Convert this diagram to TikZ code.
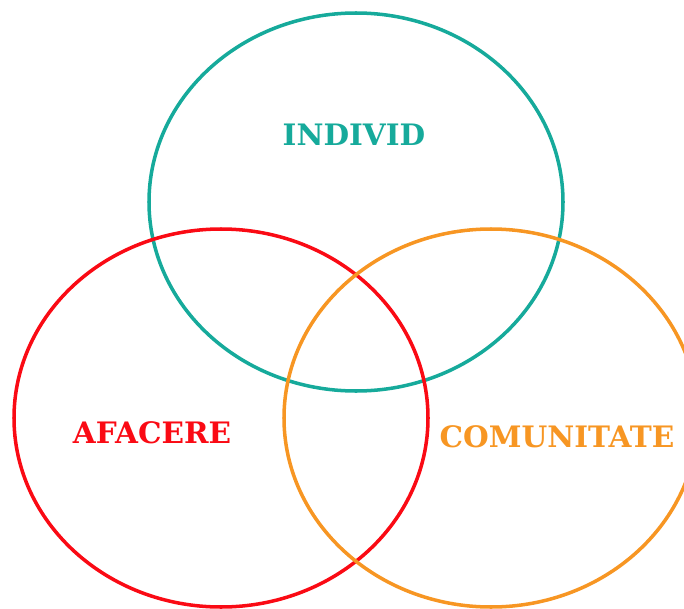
\documentclass[tikz,border=0pt]{standalone}
\usepackage{fontspec}
\setmainfont{DejaVu Serif}
\definecolor{indteal}{RGB}{22, 170, 155}
\definecolor{afred}{RGB}{250, 10, 20}
\definecolor{comorange}{RGB}{247, 150, 35}
\usetikzlibrary{shapes, positioning}

\begin{document}
\begin{tikzpicture}
  \useasboundingbox (0,0) rectangle (6.84,-6.09);
  \clip (0,0) rectangle (6.84,-6.09);
  \tikzset{
    ring/.style={draw, ellipse, line width=1pt, minimum width=4.14cm, minimum height=3.78cm},
    tag/.style={font=\bfseries\fontsize{8.4}{9}\selectfont, inner sep=0pt}
  }

  % Individ
  \node[ring, draw=indteal] (individ) at (3.56, -2.02) {};
  \node[tag, text=indteal] (lindivid) at (3.54, -1.35) {INDIVID};

  % Afacere
  \node[ring, draw=afred] (afacere) at (2.21, -4.18) {};
  \node[tag, text=afred] (lafacere) at (1.52, -4.33) {AFACERE};

  % Comunitate
  \node[ring, draw=comorange] (comunitate) at (4.91, -4.18) {};
  \node[tag, text=comorange] (lcomunitate) at (5.57, -4.37) {COMUNITATE};
\end{tikzpicture}
\end{document}
